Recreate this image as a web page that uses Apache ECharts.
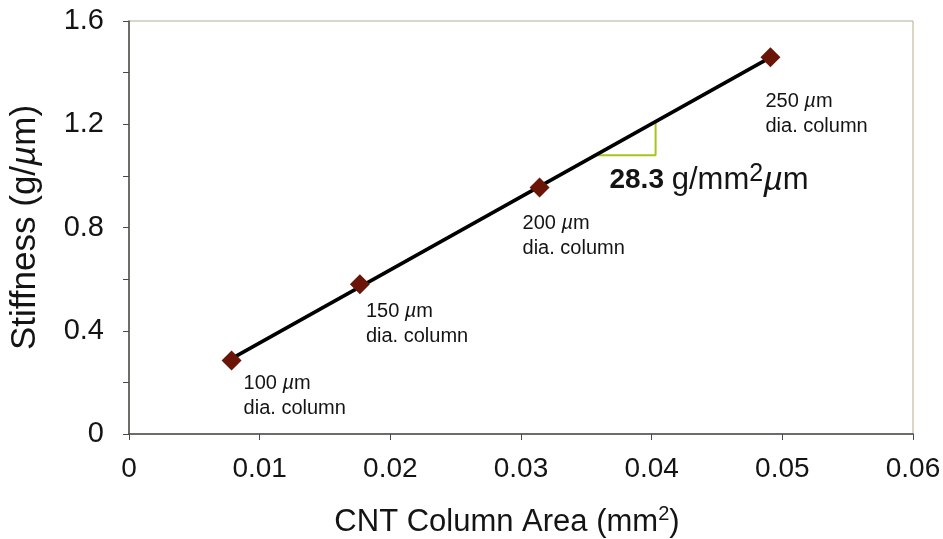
<!DOCTYPE html>
<html>
<head>
<meta charset="utf-8">
<script src="https://cdn.jsdelivr.net/npm/echarts@6/dist/echarts.min.js"></script>
<style>
  html, body { margin: 0; padding: 0; background: #fff; }
  #chart { width: 943px; height: 539px; }
</style>
</head>
<body>
<div id="chart"></div>
<script>
// Column cross-section area (mm^2) vs measured stiffness (g/µm)
const columnDiameters = ['100', '150', '200', '250'];        // µm
const columnArea      = [0.00785, 0.01767, 0.03142, 0.04909]; // mm^2
const stiffness       = [0.285, 0.58, 0.955, 1.46];          // g/µm

// Linear fit through the measurements (slope 28.3 g/mm^2µm)
const fitLine = [[0.00785, 0.292], [0.04909, 1.459]];
// Slope triangle drawn under the fit line
const slopeTriangle = [[0.0357, 1.080], [0.0403, 1.080], [0.0403, 1.210]];
const slopeText = { value: '28.3', unit: 'g/mm', power: '2' };

const xTicks = { min: 0, max: 0.06, step: 0.01 };
const yTicks = { min: 0, max: 1.6, step: 0.2 };

// Label placement for each point's caption (pixel offsets from the marker)
const captionOffsets = [[12, 11], [6, 15], [-17, 23], [-5, 32]];

const FONT = '"Liberation Sans", Arial, sans-serif';
const INK = '#141414';
const chart = echarts.init(document.getElementById('chart'), null, { renderer: 'canvas' });

const points = columnArea.map((a, i) => ({
  value: [a, stiffness[i]],
  label: {
    show: true,
    position: 'inside',
    align: 'left',
    verticalAlign: 'top',
    offset: captionOffsets[i],
    color: INK,
    opacity: 1,
    formatter: () => '{n|' + columnDiameters[i] + ' }{i|µ}{n|m}\n{n|dia. column}',
    rich: {
      n: { fontFamily: FONT, fontSize: 20, color: INK, lineHeight: 25 },
      i: { fontFamily: FONT, fontSize: 20, color: INK, fontStyle: 'italic', lineHeight: 25 }
    }
  }
}));

const option = {
  animation: false,
  backgroundColor: '#fff',
  grid: {
    left: 129, right: 30, top: 21, bottom: 105,
    outerBoundsMode: 'none',
    containLabel: false,
    show: true, borderColor: '#b3ad8c', borderWidth: 1, backgroundColor: 'transparent'
  },
  xAxis: {
    type: 'value',
    min: xTicks.min, max: xTicks.max, interval: xTicks.step,
    name: '{a|CNT Column Area (mm}{s|2}{a|)}',
    nameLocation: 'middle',
    nameGap: 70,
    nameTextStyle: {
      padding: [0, 28, 0, 0],
      rich: {
        a: { fontFamily: FONT, fontSize: 31, color: INK },
        s: { fontFamily: FONT, fontSize: 20, color: INK, padding: [0, 0, 16, 0] }
      }
    },
    axisLine: { show: true, lineStyle: { color: '#4a4a4a', width: 1.5 } },
    axisTick: { show: true, inside: false, length: 6, lineStyle: { color: '#4a4a4a' } },
    axisLabel: {
      margin: 21, fontFamily: FONT, fontSize: 28, color: INK,
      formatter: v => (Math.abs(v) < 1e-9 ? '0' : v.toFixed(2))
    },
    splitLine: { show: false }
  },
  yAxis: {
    type: 'value',
    min: yTicks.min, max: yTicks.max, interval: yTicks.step,
    name: '{a|Stiffness (g/}{i|µ}{a|m)}',
    nameLocation: 'middle',
    nameGap: 86,
    nameRotate: 90,
    nameTextStyle: {
      rich: {
        a: { fontFamily: FONT, fontSize: 35, color: INK },
        i: { fontFamily: FONT, fontSize: 35, color: INK, fontStyle: 'italic' }
      }
    },
    axisLine: { show: true, lineStyle: { color: '#4a4a4a', width: 1.5 } },
    axisTick: { show: true, inside: false, length: 6, lineStyle: { color: '#4a4a4a' } },
    axisLabel: {
      margin: 25, fontFamily: FONT, fontSize: 29, color: INK,
      formatter: v => {
        const k = Math.round(v * 10);
        if (k % 4 !== 0) return '';
        return k === 0 ? '0' : (k / 10).toFixed(1);
      }
    },
    splitLine: { show: false }
  },
  series: [
    {
      name: 'fit',
      type: 'line',
      data: fitLine,
      symbol: 'none',
      lineStyle: { color: '#000', width: 3.5 },
      z: 2
    },
    {
      name: 'slope',
      type: 'line',
      data: slopeTriangle,
      symbol: 'none',
      lineStyle: { color: '#a9c41c', width: 2 },
      z: 1
    },
    {
      name: 'stiffness',
      type: 'scatter',
      data: points,
      symbol: 'diamond',
      symbolSize: [20, 20],
      itemStyle: { color: '#6a1508', opacity: 1 },
      z: 3
    }
  ]
};

chart.setOption(option);

// Slope annotation placed next to the triangle
const anchor = chart.convertToPixel({ gridIndex: 0 }, [slopeTriangle[0][0], slopeTriangle[0][1]]);
chart.setOption({
  graphic: [{
    type: 'text',
    left: anchor[0] + 14,
    top: anchor[1] + 6,
    style: {
      text: '{b|' + slopeText.value + ' }{n|' + slopeText.unit + '}{s|' + slopeText.power + '}{i|µ}{n|m}',
      rich: {
        b: { fontFamily: FONT, fontSize: 28, fontWeight: 'bold', fill: INK },
        n: { fontFamily: FONT, fontSize: 31, fill: INK },
        s: { fontFamily: FONT, fontSize: 25, fill: INK, padding: [0, 0, 14, 0] },
        i: { fontFamily: FONT, fontSize: 34, fontStyle: 'italic', fill: INK }
      }
    }
  }]
});
</script>
</body>
</html>
